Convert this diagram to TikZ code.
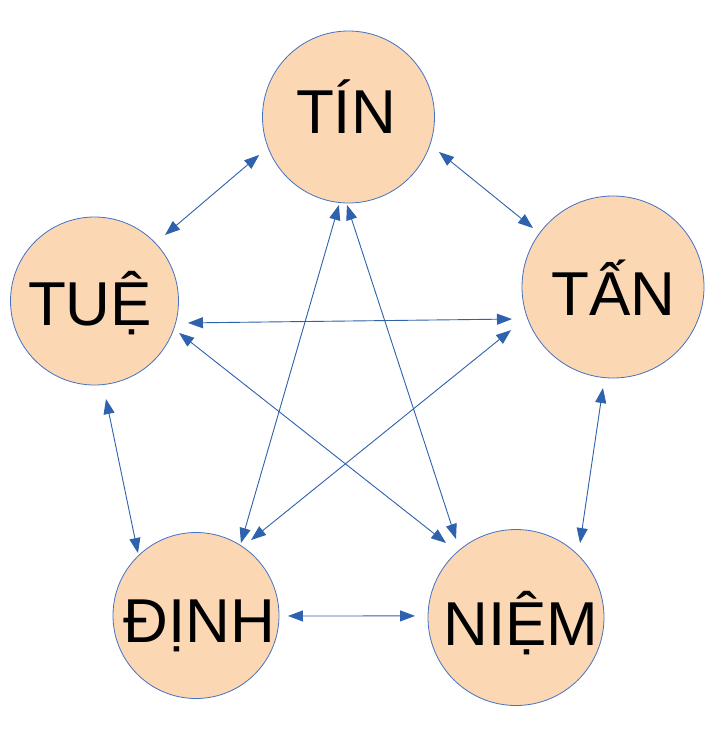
\documentclass[tikz,border=0pt]{standalone}
\usepackage{fontspec}
\setmainfont{Liberation Sans}
\usetikzlibrary{arrows.meta,calc}
\definecolor{peach}{HTML}{FBD7B4}
\definecolor{rim}{HTML}{4472C4}
\definecolor{arrowblue}{HTML}{2E62AC}
\tikzset{
  ball/.style={circle, draw=rim, line width=0.8pt, fill=peach, inner sep=0pt},
  word/.style={anchor=base, inner sep=0pt, font=\fontsize{62}{70}\selectfont},
  link/.style={draw=arrowblue, line width=0.9pt,
    {Triangle[length=15pt,width=11pt]}-{Triangle[length=15pt,width=11pt]}}
}
\begin{document}
\begin{tikzpicture}[x=1pt,y=-1pt]
\path[use as bounding box] (0,0) rectangle (716,739);
\fill[white] (0,0) rectangle (716,739);
% circles
\node[ball, minimum size=172pt] (tin)  at (348.5,117) {};
\node[ball, minimum size=168pt] (tue)  at (94.5,301) {};
\node[ball, minimum size=182pt] (tan)  at (613,287) {};
\node[ball, minimum size=166pt] (dinh) at (196,615.5) {};
\node[ball, minimum size=176pt] (niem) at (516,617.5) {};
% labels
\node[word] (tinL)  at (346,133) {TÍN};
\node[word] (tueL)  at (90,325) {TUỆ};
\node[word] (tanL)  at (613.5,315) {TẤN};
\node[word] (dinhL) at (199.5,642) {ĐỊNH};
\node[word] (niemL) at (521,645) {NIỆM};
% connectors
\draw[link] ($(tin)+(203:97pt)$) -- ($(tue)+(43.1:96.6pt)$);
\draw[link] ($(tin)+(338.9:97pt)$) -- ($(tan)+(143.6:99.4pt)$);
\draw[link] ($(tue)+(-13.2:96pt)$) -- ($(tan)+(197.6:106pt)$);
\draw[link] ($(tue)+(-20.7:90.4pt)$) -- ($(niem)+(133.2:102.2pt)$);
\draw[link] ($(tan)+(202.9:110.7pt)$) -- ($(dinh)+(53.9:93.4pt)$);
\draw[link] ($(tin)+(263.8:88.5pt)$) -- ($(dinh)+(58.2:85.3pt)$);
\draw[link] ($(tin)+(269:88pt)$) -- ($(niem)+(127.4:98.8pt)$);
\draw[link] ($(tue)+(276.7:98.7pt)$) -- ($(dinh)+(132.9:85.3pt)$);
\draw[link] ($(tan)+(264.3:101.5pt)$) -- ($(niem)+(49.3:98.2pt)$);
\draw[link] ($(dinh)+(-0.3:92pt)$) -- ($(niem)+(179.1:101pt)$);
\end{tikzpicture}
\end{document}
